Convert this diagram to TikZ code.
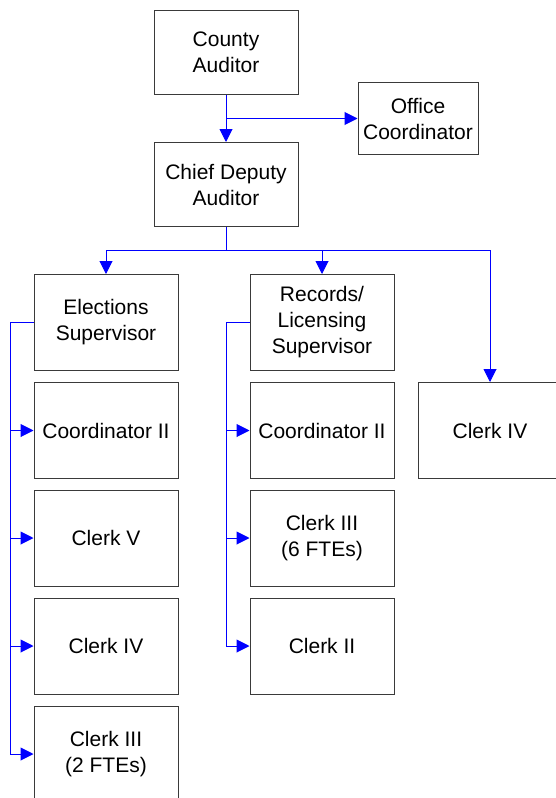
\documentclass[tikz,border=0pt]{standalone}
\usepackage{fontspec}
\setmainfont{Liberation Sans}
\usetikzlibrary{arrows.meta}
\definecolor{boxgray}{HTML}{3A3A3A}
\begin{document}
\begin{tikzpicture}[x=1pt,y=-1pt,
 box/.style={draw=boxgray, line width=1pt, align=center, inner sep=0pt,
   minimum width=144pt, minimum height=96pt, font=\fontsize{21}{26}\selectfont},
 conn/.style={draw=blue, line width=1pt},
 arr/.style={conn, -{Triangle[length=13pt,width=13pt]}}]
\clip (0,0) rectangle (556,798);
\fill[white] (0,0) rectangle (556,798);
\node[box, minimum height=84pt] (ca) at (226,52.5) {County\\Auditor};
\node[box, minimum width=120pt, minimum height=72pt] (oc) at (418,118.5) {Office\\Coordinator};
\node[box, minimum height=84pt] (cd) at (226,184.5) {Chief Deputy\\Auditor};
\node[box] (es) at (106,322.5) {Elections\\Supervisor};
\node[box] (rs) at (322,322.5) {Records/\\Licensing\\Supervisor};
\node[box] (ckr) at (490,430.5) {Clerk IV};
\node[box] (e1) at (106,430.5) {Coordinator II};
\node[box] (e2) at (106,538) {Clerk V};
\node[box] (e3) at (106,646) {Clerk IV};
\node[box] (e4) at (106,754) {Clerk III\\(2 FTEs)};
\node[box] (r1) at (322,430.5) {Coordinator II};
\node[box] (r2) at (322,538) {Clerk III\\(6 FTEs)};
\node[box] (r3) at (322,646) {Clerk II};
\draw[arr] (ca.south) -- (cd.north);
\draw[arr] (ca.south |- oc.west) -- (oc.west);
\coordinate (bus) at (226,250);
\draw[conn] (cd.south) -- (bus);
\draw[arr] (bus) -| (es.north);
\draw[arr] (bus) -| (rs.north);
\draw[arr] (bus) -| (ckr.north);
\coordinate (el) at (10,322.5);
\draw[conn] (es.west) -- (el);
\foreach \n in {e1,e2,e3,e4} \draw[arr] (el) |- (\n.west);
\coordinate (rl) at (226,322.5);
\draw[conn] (rs.west) -- (rl);
\foreach \n in {r1,r2,r3} \draw[arr] (rl) |- (\n.west);
\end{tikzpicture}
\end{document}
